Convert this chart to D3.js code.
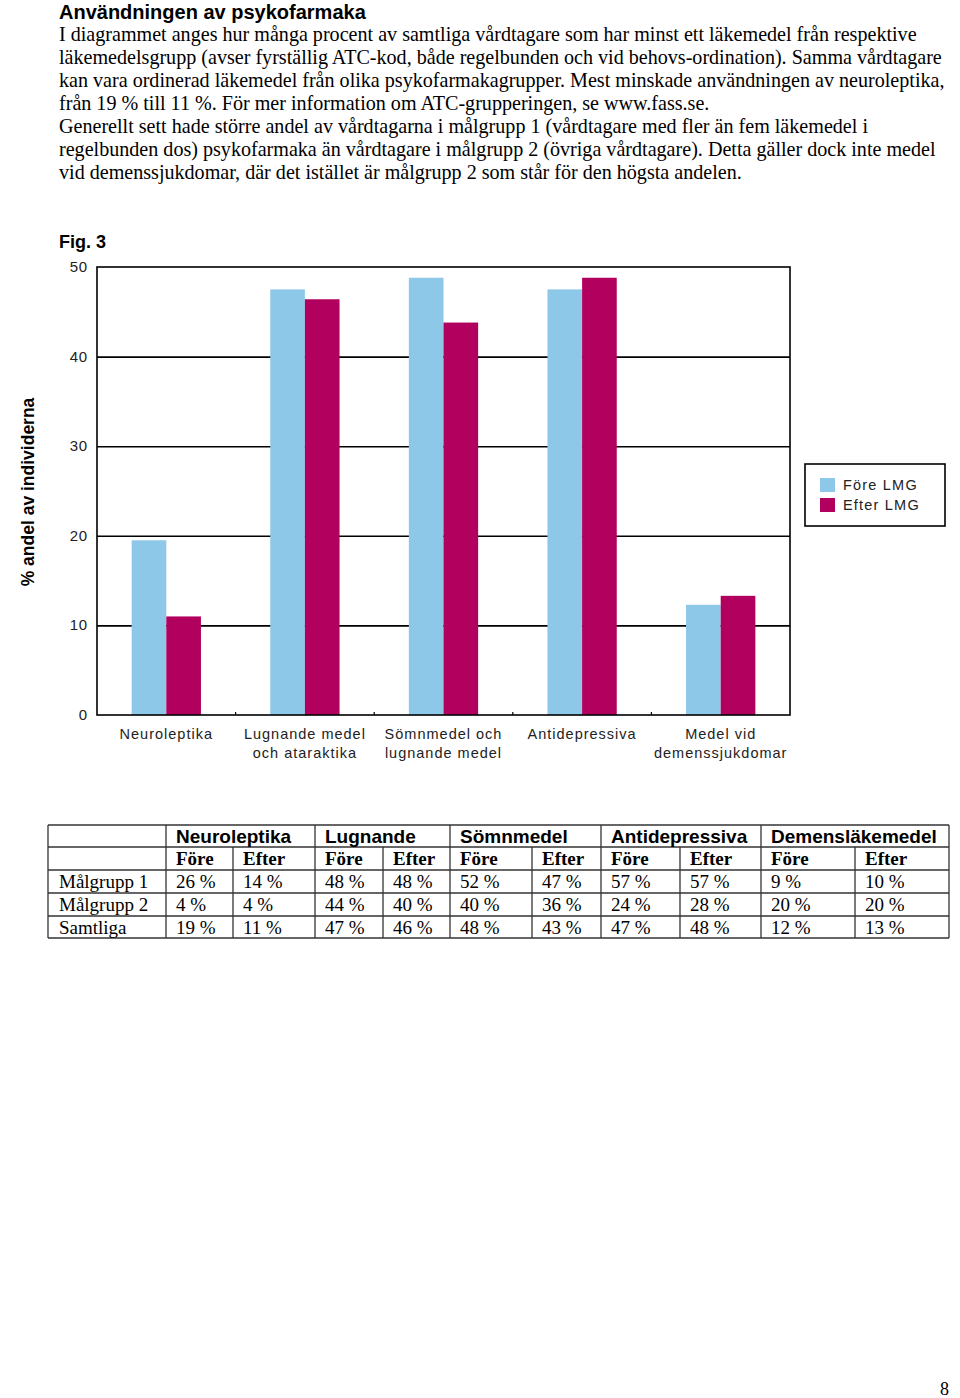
<!DOCTYPE html>
<html>
<head>
<meta charset="utf-8">
<script src="https://cdn.jsdelivr.net/npm/d3@7"></script>
<style>
  body { margin: 0; background: #fff; }
  svg { display: block; }
  .serif { font-family: "Liberation Serif", "Times New Roman", serif; }
  .sans { font-family: "Liberation Sans", Arial, sans-serif; }
</style>
</head>
<body>
<svg id="page" width="960" height="1398"></svg>
<script>
/*
****************************** DATA ******************************
*/
var categories = ["Neuroleptika", "Lugnande medel|och ataraktika", "Sömnmedel och|lugnande medel", "Antidepressiva", "Medel vid|demenssjukdomar"];
var series = ["Före LMG", "Efter LMG"];
var foreValues = [19.5, 47.5, 48.8, 47.5, 12.3];
var efterValues = [11.0, 46.4, 43.8, 48.8, 13.3];
var yTicks = [0, 10, 20, 30, 40, 50];

var tableGroups = ["Neuroleptika", "Lugnande", "Sömnmedel", "Antidepressiva", "Demensläkemedel"];
var tableSub = ["Före", "Efter"];
var tableRows = ["Målgrupp 1", "Målgrupp 2", "Samtliga"];
var malgrupp1 = [26, 14, 48, 48, 52, 47, 57, 57, 9, 10];
var malgrupp2 = [4, 4, 44, 40, 40, 36, 24, 28, 20, 20];
var samtliga = [19, 11, 47, 46, 48, 43, 47, 48, 12, 13];

var paragraph = [
  "I diagrammet anges hur många procent av samtliga vårdtagare som har minst ett läkemedel från respektive",
  "läkemedelsgrupp (avser fyrställig ATC-kod, både regelbunden och vid behovs-ordination). Samma vårdtagare",
  "kan vara ordinerad läkemedel från olika psykofarmakagrupper. Mest minskade användningen av neuroleptika,",
  "från 19 % till 11 %. För mer information om ATC-grupperingen, se www.fass.se.",
  "Generellt sett hade större andel av vårdtagarna i målgrupp 1 (vårdtagare med fler än fem läkemedel i",
  "regelbunden dos) psykofarmaka än vårdtagare i målgrupp 2 (övriga vårdtagare). Detta gäller dock inte medel",
  "vid demenssjukdomar, där det istället är målgrupp 2 som står för den högsta andelen."
];

var svg = d3.select("#page");
var colors = ["#8ec8e8", "#b2005f"];

/*
****************************** TEXT ******************************
*/
svg.append("text").attr("class", "sans")
  .attr("x", 59).attr("y", 19)
  .style("font-size", "20px").style("font-weight", "bold")
  .text("Användningen av psykofarmaka");

svg.append("g").selectAll("text").data(paragraph).enter().append("text")
  .attr("class", "serif")
  .attr("x", 59).attr("y", function (d, i) { return 41 + i * 23; })
  .style("font-size", "20.1px")
  .text(function (d) { return d; });

svg.append("text").attr("class", "sans")
  .attr("x", 59).attr("y", 248)
  .style("font-size", "18px").style("font-weight", "bold")
  .text("Fig. 3");

/*
****************************** CHART ******************************
*/
var plotLeft = 97, plotRight = 790, plotTop = 267, plotBottom = 715;

var x0 = d3.scaleBand().domain(categories).range([plotLeft, plotRight]);
var x1 = d3.scaleBand().domain(series).range([0, x0.bandwidth()]).paddingOuter(1);
var y = d3.scaleLinear().domain([0, 50]).range([plotBottom, plotTop]);

var chart = svg.append("g");

// grid lines
chart.append("g")
  .attr("transform", "translate(" + plotLeft + ",0)")
  .call(d3.axisLeft(y).tickValues(yTicks.slice(1, -1)).tickSize(-(plotRight - plotLeft)).tickFormat(""))
  .call(function (g) { g.select(".domain").remove(); })
  .selectAll("line").attr("stroke", "#000").attr("stroke-width", 1.6);

// bars
var groups = chart.append("g").selectAll("g").data(categories).enter().append("g")
  .attr("transform", function (d) { return "translate(" + x0(d) + ",0)"; });

groups.selectAll("rect")
  .data(function (d, i) { return [{ s: series[0], v: foreValues[i] }, { s: series[1], v: efterValues[i] }]; })
  .enter().append("rect")
  .attr("x", function (d) { return x1(d.s); })
  .attr("width", x1.bandwidth())
  .attr("y", function (d) { return y(d.v); })
  .attr("height", function (d) { return plotBottom - y(d.v); })
  .attr("fill", function (d, i) { return colors[i]; });

// frame
chart.append("rect")
  .attr("x", plotLeft).attr("y", plotTop)
  .attr("width", plotRight - plotLeft).attr("height", plotBottom - plotTop)
  .attr("fill", "none").attr("stroke", "#000").attr("stroke-width", 1.6);

// category ticks on x axis
chart.append("g").selectAll("line").data(categories.slice(1)).enter().append("line")
  .attr("x1", function (d) { return x0(d); }).attr("x2", function (d) { return x0(d); })
  .attr("y1", plotBottom).attr("y2", plotBottom - 3)
  .attr("stroke", "#000").attr("stroke-width", 1.2);

// y tick labels
chart.append("g").selectAll("text").data(yTicks).enter().append("text")
  .attr("class", "sans")
  .attr("x", 88).attr("y", function (d) { return y(d) + 5; })
  .attr("text-anchor", "end")
  .style("font-size", "15px").style("letter-spacing", "0.8px")
  .attr("fill", "#222")
  .text(function (d) { return d; });

// x labels
var xl = chart.append("g").selectAll("text").data(categories).enter().append("text")
  .attr("class", "sans")
  .attr("text-anchor", "middle")
  .attr("x", function (d) { return x0(d) + x0.bandwidth() / 2; })
  .attr("y", 739)
  .style("font-size", "14.5px").style("letter-spacing", "1px")
  .attr("fill", "#222");
xl.selectAll("tspan").data(function (d) { return d.split("|"); }).enter().append("tspan")
  .attr("x", function () { var p = d3.select(this.parentNode).datum(); return x0(p) + x0.bandwidth() / 2; })
  .attr("dy", function (d, i) { return i === 0 ? 0 : 19; })
  .text(function (d) { return d; });

// y title
svg.append("text").attr("class", "sans")
  .attr("transform", "translate(34,492) rotate(-90)")
  .attr("text-anchor", "middle")
  .style("font-size", "17.5px").style("font-weight", "bold")
  .text("% andel av individerna");

// legend
var legend = svg.append("g").attr("transform", "translate(805,464)");
legend.append("rect").attr("width", 140).attr("height", 62)
  .attr("fill", "#fff").attr("stroke", "#000").attr("stroke-width", 1.6);
var li = legend.selectAll("g.item").data(series).enter().append("g")
  .attr("transform", function (d, i) { return "translate(15," + (14 + i * 20) + ")"; });
li.append("rect").attr("width", 15).attr("height", 14)
  .attr("fill", function (d, i) { return colors[i]; });
li.append("text").attr("class", "sans")
  .attr("x", 23).attr("y", 12)
  .style("font-size", "14.5px").style("letter-spacing", "1.2px")
  .attr("fill", "#222")
  .text(function (d) { return d; });

/*
****************************** TABLE ******************************
*/
var colEdges = [48, 166, 233, 315, 383, 450, 532, 601, 680, 761, 855, 949];
var rowEdges = [825, 847, 870, 893, 916, 938];
var table = svg.append("g");
var lineCol = "#333";

// horizontal lines
table.append("g").selectAll("line").data(rowEdges).enter().append("line")
  .attr("x1", colEdges[0]).attr("x2", colEdges[colEdges.length - 1])
  .attr("y1", function (d) { return d; }).attr("y2", function (d) { return d; })
  .attr("stroke", lineCol).attr("stroke-width", 1.3);

// vertical lines
table.append("g").selectAll("line").data(colEdges).enter().append("line")
  .attr("x1", function (d) { return d; }).attr("x2", function (d) { return d; })
  .attr("y1", function (d, i) { return (i >= 2 && i % 2 === 0 && i < colEdges.length - 1) ? rowEdges[1] : rowEdges[0]; })
  .attr("y2", rowEdges[rowEdges.length - 1])
  .attr("stroke", lineCol).attr("stroke-width", 1.3);

// group headers
table.append("g").selectAll("text").data(tableGroups).enter().append("text")
  .attr("class", "sans")
  .attr("x", function (d, i) { return colEdges[1 + i * 2] + 10; })
  .attr("y", rowEdges[0] + 18)
  .style("font-size", "19px").style("font-weight", "bold")
  .text(function (d) { return d; });

// sub headers
var subCells = [];
tableGroups.forEach(function (g, gi) {
  tableSub.forEach(function (s, si) { subCells.push({ t: s, c: 1 + gi * 2 + si }); });
});
table.append("g").selectAll("text").data(subCells).enter().append("text")
  .attr("class", "serif")
  .attr("x", function (d) { return colEdges[d.c] + 10; })
  .attr("y", rowEdges[1] + 18)
  .style("font-size", "19px").style("font-weight", "bold")
  .text(function (d) { return d.t; });

// body rows
var rowData = [malgrupp1, malgrupp2, samtliga];
var body = table.append("g").selectAll("g").data(tableRows).enter().append("g");
body.append("text").attr("class", "serif")
  .attr("x", 59).attr("y", function (d, i) { return rowEdges[2 + i] + 18; })
  .style("font-size", "19px")
  .text(function (d) { return d; });
body.each(function (d, ri) {
  d3.select(this).selectAll("text.v").data(rowData[ri]).enter().append("text")
    .attr("class", "serif v")
    .attr("x", function (v, ci) { return colEdges[1 + ci] + 10; })
    .attr("y", rowEdges[2 + ri] + 18)
    .style("font-size", "19px")
    .text(function (v) { return v + " %"; });
});

// page number
svg.append("text").attr("class", "serif")
  .attr("x", 949).attr("y", 1395).attr("text-anchor", "end")
  .style("font-size", "18px")
  .text("8");
</script>
</body>
</html>
